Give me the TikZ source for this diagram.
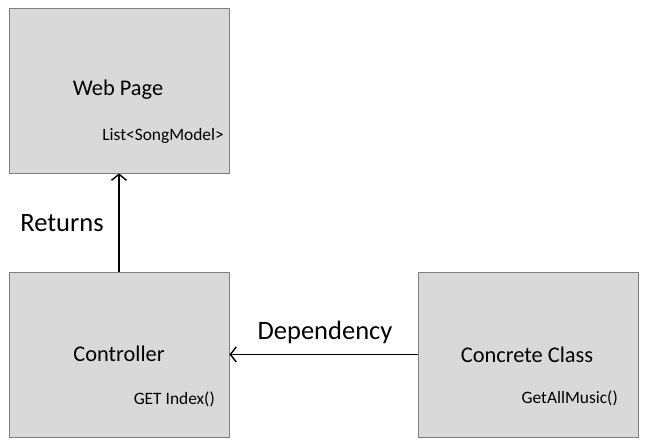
\documentclass[tikz,border=0pt]{standalone}
\usepackage{fontspec}
\setmainfont{Carlito}
\usetikzlibrary{arrows.meta}
\definecolor{boxfill}{HTML}{D9D9D9}
\definecolor{boxline}{HTML}{7F7F7F}
\tikzset{
  classbox/.style={draw=boxline,fill=boxfill,line width=0.8pt,minimum width=220pt,minimum height=165pt,inner sep=0pt},
  title/.style={font=\fontsize{22.4}{26}\selectfont,inner sep=0pt},
  member/.style={font=\fontsize{17.4}{20}\selectfont,inner sep=0pt,anchor=east},
  lbl/.style={font=\fontsize{26.5}{30}\selectfont,inner sep=0pt},
  link/.style={line width=1.6pt,-{Straight Barb[length=6pt,width=15pt,line width=1.4pt]}}
}
\begin{document}
\begin{tikzpicture}[x=1pt,y=-1pt]
   \useasboundingbox (0,0) rectangle (649,447);
   \node[classbox] (web) at (119,90.5) {};
   \node[classbox] (ctrl) at (119,354.5) {};
   \node[classbox] (concrete) at (528,354.5) {};

   \node[title] (webt) at (118,90) {Web Page};
   \node[member] (webm) at (224,136) {List<SongModel>};
   \node[title] (ctrlt) at (119,354) {Controller};
   \node[member] (ctrlm) at (215,399) {GET Index()};
   \node[title] (concretet) at (527,355) {Concrete Class};
   \node[member] (concretem) at (618,398) {GetAllMusic()};

   \node[lbl] (ret) at (62,223) {Returns};
   \node[lbl] (dep) at (325,332) {Dependency};

   \draw[link] (ctrl.north) -- (web.south);
   \draw[link] (concrete.west) -- (ctrl.east);
\end{tikzpicture}
\end{document}
